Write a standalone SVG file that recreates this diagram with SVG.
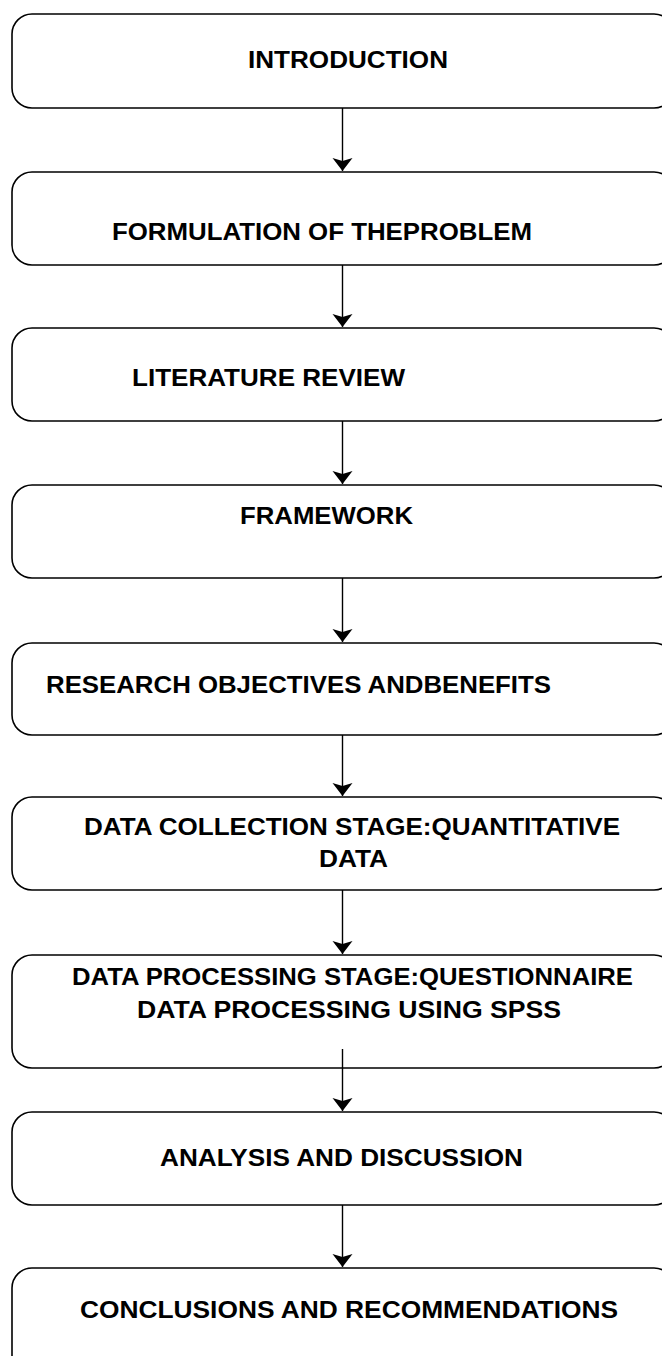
<svg xmlns="http://www.w3.org/2000/svg" width="662" height="1356" viewBox="0 0 662 1356">
<style>
.box{fill:#fff;stroke:#000;stroke-width:1.6}
.lbl{font-family:"Liberation Sans",Arial,sans-serif;font-weight:bold;font-size:24px;fill:#000}
.con{stroke:#000;stroke-width:1.4;fill:none}
</style>
<defs>
<marker id="ah" markerUnits="userSpaceOnUse" markerWidth="16" markerHeight="22" viewBox="0 0 16 22" refX="14" refY="11" orient="auto">
<path d="M1,1 L14,11 L1,21 L4,11 Z" fill="#000"/>
</marker>
</defs>
<rect width="662" height="1356" fill="#fff"/>
<g id="n1"><rect class="box" x="12" y="14" width="662" height="94" rx="20"/><text class="lbl" x="248" y="68" textLength="200" lengthAdjust="spacingAndGlyphs">INTRODUCTION</text></g>
<g id="n2"><rect class="box" x="12" y="172" width="662" height="93" rx="20"/><text class="lbl" x="112" y="240" textLength="420" lengthAdjust="spacingAndGlyphs">FORMULATION OF THEPROBLEM</text></g>
<g id="n3"><rect class="box" x="12" y="328" width="662" height="93" rx="20"/><text class="lbl" x="132" y="386" textLength="273" lengthAdjust="spacingAndGlyphs">LITERATURE REVIEW</text></g>
<g id="n4"><rect class="box" x="12" y="485" width="662" height="93" rx="20"/><text class="lbl" x="240" y="524" textLength="173" lengthAdjust="spacingAndGlyphs">FRAMEWORK</text></g>
<g id="n5"><rect class="box" x="12" y="643" width="662" height="92" rx="20"/><text class="lbl" x="46" y="693" textLength="505" lengthAdjust="spacingAndGlyphs">RESEARCH OBJECTIVES ANDBENEFITS</text></g>
<g id="n6"><rect class="box" x="12" y="797" width="662" height="93" rx="20"/><text class="lbl" x="84" y="835" textLength="536" lengthAdjust="spacingAndGlyphs">DATA COLLECTION STAGE:QUANTITATIVE</text><text class="lbl" x="319" y="867" textLength="69" lengthAdjust="spacingAndGlyphs">DATA</text></g>
<g id="n7"><rect class="box" x="12" y="955" width="662" height="113" rx="20"/><text class="lbl" x="72" y="985" textLength="561" lengthAdjust="spacingAndGlyphs">DATA PROCESSING STAGE:QUESTIONNAIRE</text><text class="lbl" x="137" y="1018" textLength="424" lengthAdjust="spacingAndGlyphs">DATA PROCESSING USING SPSS</text></g>
<g id="n8"><rect class="box" x="12" y="1112" width="662" height="93" rx="20"/><text class="lbl" x="160" y="1166" textLength="363" lengthAdjust="spacingAndGlyphs">ANALYSIS AND DISCUSSION</text></g>
<g id="n9"><rect class="box" x="12" y="1268" width="662" height="110" rx="20"/><text class="lbl" x="80" y="1318" textLength="538" lengthAdjust="spacingAndGlyphs">CONCLUSIONS AND RECOMMENDATIONS</text></g>
<g id="connectors">
<line class="con" x1="342.5" y1="108" x2="342.5" y2="171" marker-end="url(#ah)"/>
<line class="con" x1="342.5" y1="265" x2="342.5" y2="327" marker-end="url(#ah)"/>
<line class="con" x1="342.5" y1="421" x2="342.5" y2="484" marker-end="url(#ah)"/>
<line class="con" x1="342.5" y1="578" x2="342.5" y2="642" marker-end="url(#ah)"/>
<line class="con" x1="342.5" y1="735" x2="342.5" y2="796" marker-end="url(#ah)"/>
<line class="con" x1="342.5" y1="890" x2="342.5" y2="954" marker-end="url(#ah)"/>
<line class="con" x1="342.5" y1="1049" x2="342.5" y2="1111" marker-end="url(#ah)"/>
<line class="con" x1="342.5" y1="1205" x2="342.5" y2="1267" marker-end="url(#ah)"/>
</g>
</svg>
